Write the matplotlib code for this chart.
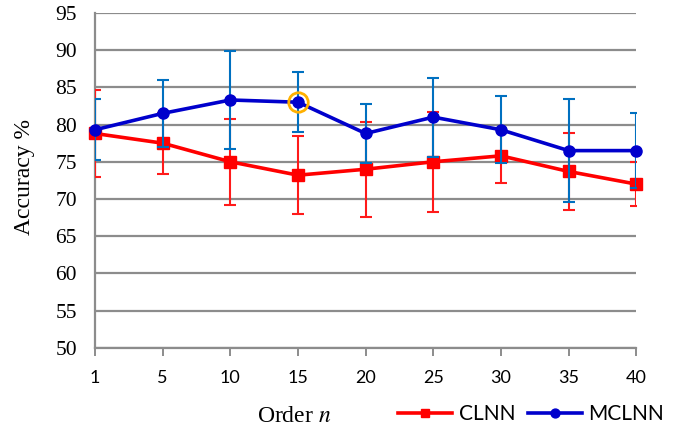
import matplotlib.pyplot as plt
import numpy as np

orders = ['1', '5', '10', '15', '20', '25', '30', '35', '40']

clnn = [78.8, 77.5, 75.0, 73.2, 74.0, 75.0, 75.8, 73.7, 72.0]
clnn_err = [5.8, 4.1, 5.8, 5.2, 6.4, 6.7, 3.6, 5.2, 3.0]

mclnn = [79.3, 81.5, 83.3, 83.0, 78.8, 81.0, 79.3, 76.5, 76.5]
mclnn_err = [4.1, 4.5, 6.6, 4.0, 4.0, 5.3, 4.5, 6.9, 5.0]

best_idx = 3  # highlighted point (n = 15)

grid_col = '#8c8c8c'

fig = plt.figure(figsize=(6.74, 4.29), dpi=100)
ax = fig.add_axes([0.141, 0.189, 0.803, 0.781])

x = np.arange(len(orders))

ax.errorbar(x, clnn, yerr=clnn_err, fmt='none', ecolor='#ff1a1a',
            elinewidth=1.5, capsize=4.5, capthick=1.5, zorder=3)
l1, = ax.plot(x, clnn, color='#ff0000', lw=2.6, marker='s', ms=8,
              label='CLNN', zorder=4, clip_on=False)
ax.errorbar(x, mclnn, yerr=mclnn_err, fmt='none', ecolor='#0070c0',
            elinewidth=1.5, capsize=4.5, capthick=1.5, zorder=5)
l2, = ax.plot(x, mclnn, color='#0000cc', lw=2.6, marker='o', ms=8,
              label='MCLNN', zorder=6, clip_on=False)

ax.plot(x[best_idx], mclnn[best_idx], marker='o', ms=14, mfc='none',
        mec='#ffb000', mew=2, ls='none', zorder=7)

ax.set_xlim(0, len(orders) - 1)
ax.set_ylim(50, 95)
ax.set_yticks(np.arange(50, 96, 5))
ax.set_xticks(x)
ax.set_xticklabels(orders, family='Lato', fontsize=13)
for t in ax.get_yticklabels():
    t.set_family('Liberation Serif')
    t.set_fontsize(15.5)

ax.grid(axis='y', color=grid_col, lw=1.6)
ax.set_axisbelow(True)
for s in ['top', 'right']:
    ax.spines[s].set_visible(False)
ax.spines['left'].set_color(grid_col)
ax.spines['left'].set_linewidth(1.6)
ax.spines['bottom'].set_color(grid_col)
ax.spines['bottom'].set_linewidth(1.6)
ax.tick_params(axis='y', length=0, pad=13)
ax.tick_params(axis='x', direction='out', length=6, width=1.4,
               color=grid_col, pad=10)

fig.text(25 / 674, 1 - 177 / 429, 'Accuracy %', family='Liberation Serif',
         fontsize=17, rotation=90, ha='center', va='center')
fig.text(294 / 674, 1 - 416 / 429, 'Order $n$', family='Liberation Serif',
         fontsize=17, ha='center', va='center', math_fontfamily='stix')

fig.legend(handles=[l1, l2], loc='center right', bbox_to_anchor=(0.985, 1 - 414 / 429),
           ncol=2, frameon=False, prop={'family': 'Lato', 'size': 15},
           handlelength=2.6, handletextpad=0.3, columnspacing=0.6,
           markerscale=0.8, borderaxespad=0.0, borderpad=0.0)

fig.savefig('out.png', dpi=100)
